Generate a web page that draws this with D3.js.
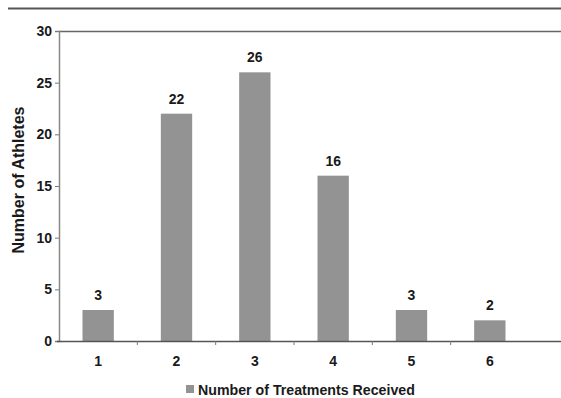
<!DOCTYPE html>
<html><head><meta charset="utf-8">
<script src="https://d3js.org/d3.v7.min.js"></script>
<style>body{margin:0;background:#fff}svg{display:block}text{font-family:Arial,"Liberation Sans",sans-serif;font-weight:bold;fill:#1a1a1a}</style>
</head><body>
<script>
const categories = ["1","2","3","4","5","6"];
const values = [3,22,26,16,3,2];
const yTicks = [0,5,10,15,20,25,30];
const seriesName = "Number of Treatments Received";
const yTitle = "Number of Athletes";

(function(){
const W=561,H=398;
const svg=d3.select("body").append("svg").attr("width",W).attr("height",H);
const mLeft=59, mRight=529, mTop=31, mBottom=341;
const x=d3.scaleBand().domain(categories).range([mLeft,mRight]).paddingInner(0.6).paddingOuter(0.3);
const y=d3.scaleLinear().domain([0,30]).range([mBottom,mTop]);
const font="Arial,'Liberation Sans',sans-serif";

svg.append("line").attr("x1",8).attr("x2",W).attr("y1",8.5).attr("y2",8.5).attr("stroke","#555").attr("stroke-width",2);
svg.append("line").attr("x1",mLeft).attr("x2",W).attr("y1",mTop+0.5).attr("y2",mTop+0.5).attr("stroke","#666").attr("stroke-width",1.5);

svg.selectAll("rect.bar").data(values).join("rect").attr("class","bar")
 .attr("x",(d,i)=>x(categories[i])).attr("width",x.bandwidth())
 .attr("y",d=>y(d)).attr("height",d=>mBottom-y(d)).attr("fill","#939393");

svg.selectAll("text.val").data(values).join("text").attr("class","val")
 .attr("x",(d,i)=>x(categories[i])+x.bandwidth()/2).attr("y",d=>y(d)-10)
 .attr("text-anchor","middle").attr("font-size",14).text(d=>d);

const ya=svg.append("g").attr("transform",`translate(${mLeft},0)`)
 .call(d3.axisLeft(y).tickValues(yTicks).tickSize(4).tickPadding(3));
ya.select(".domain").attr("stroke","#888").attr("stroke-width",1.5);
ya.selectAll(".tick line").attr("stroke","#777");
ya.selectAll(".tick text").attr("font-size",14).attr("fill","#1a1a1a").attr("font-family",font).attr("font-weight","bold");

const xa=svg.append("g").attr("transform",`translate(0,${mBottom})`)
 .call(d3.axisBottom(x).tickSize(0).tickPadding(15));
xa.select(".domain").remove();
svg.append("line").attr("x1",mLeft-2).attr("x2",W).attr("y1",mBottom+0.5).attr("y2",mBottom+0.5).attr("stroke","#555").attr("stroke-width",1.5);
xa.selectAll(".tick text").attr("font-size",14).attr("fill","#1a1a1a").attr("font-family",font).attr("font-weight","bold");
const step=x.step();
svg.selectAll("line.xt").data(categories.slice(1)).join("line").attr("class","xt")
 .attr("x1",d=>x(d)-(step-x.bandwidth())/2).attr("x2",d=>x(d)-(step-x.bandwidth())/2)
 .attr("y1",mBottom).attr("y2",mBottom+4).attr("stroke","#777");

svg.append("text").attr("transform",`translate(24,180) rotate(-90)`)
 .attr("text-anchor","middle").attr("font-size",16).text(yTitle);

const lg=svg.append("g").attr("transform","translate(186,385)");
lg.append("rect").attr("width",8).attr("height",8).attr("fill","#939393");
lg.append("text").attr("x",12).attr("y",9.5).attr("font-size",14.2).text(seriesName);
})();
</script>
</body></html>
